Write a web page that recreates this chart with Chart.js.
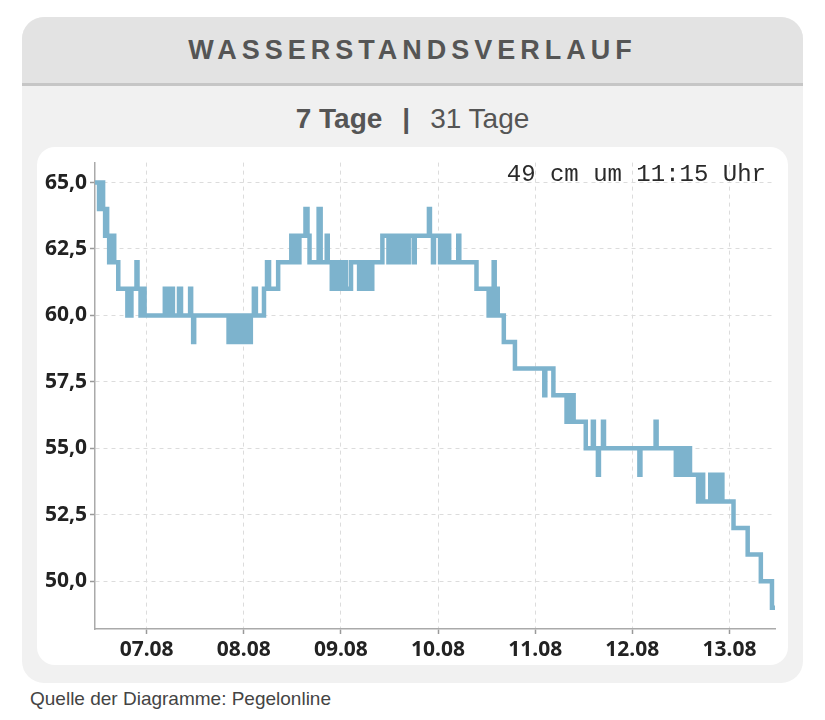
<!DOCTYPE html>
<html lang="de">
<head>
    <meta charset="UTF-8">
    <title>Wasserstandsverlauf</title>
    <style>
        body {
            margin: 0;
            background: #fff;
            font-family: 'Liberation Sans', Arial, sans-serif;
            width: 825px;
            height: 720px;
            position: relative;
            overflow: hidden;
        }
        .card {
            position: absolute;
            left: 22px;
            top: 17px;
            width: 781px;
            height: 666px;
            border-radius: 22px;
            background: #f1f1f1;
            overflow: hidden;
        }
        .card .head {
            height: 66px;
            line-height: 66px;
            background: #e3e3e3;
            border-bottom: 3px solid #c6c6c6;
            text-align: center;
            font-weight: bold;
            font-size: 27px;
            letter-spacing: 5px;
            color: #555;
        }
        .tabs {
            position: absolute;
            left: 0;
            right: 0;
            top: 84px;
            line-height: 36px;
            text-align: center;
            font-size: 28px;
            color: #555;
        }
        .tabs b { font-weight: bold; }
        .tabs .sep { margin: 0 20px; font-weight: bold; }
        .plot-box {
            position: absolute;
            left: 15px;
            top: 130px;
            width: 751px;
            height: 518px;
            border-radius: 18px;
            background: #fff;
        }
        .latest {
            position: absolute;
            right: 22px;
            top: 16px;
            font-family: 'Liberation Mono', 'DejaVu Sans Mono', monospace;
            font-size: 24px;
            line-height: 24px;
            color: #2a2a2a;
            white-space: pre;
        }
        .source {
            position: absolute;
            left: 30px;
            top: 688px;
            font-size: 19px;
            color: #444;
        }
    </style>
</head>
<body>
    <div class="card">
        <div class="head">WASSERSTANDSVERLAUF</div>
        <div class="tabs"><b>7 Tage</b><span class="sep">|</span>31 Tage</div>
        <div class="plot-box">
            <canvas id="levelChart"></canvas>
            <div class="latest" id="latest"></div>
        </div>
    </div>
    <div class="source">Quelle der Diagramme: Pegelonline</div>

    <script src="https://cdn.jsdelivr.net/npm/chart.js"></script>
    <script>
        // Messzeitpunkte (nur Wechsel des Wasserstands), Pegel in cm
        const times = [
            '06.08 11:15', '06.08 12:15', '06.08 12:45', '06.08 13:15', '06.08 13:45', '06.08 14:00',
            '06.08 14:15', '06.08 14:45', '06.08 15:00', '06.08 15:30', '06.08 15:45', '06.08 16:00',
            '06.08 17:00', '06.08 19:15', '06.08 19:30', '06.08 20:00', '06.08 20:15', '06.08 21:30',
            '06.08 21:45', '06.08 22:30', '06.08 22:45', '06.08 23:30',
            '07.08 04:30', '07.08 05:15', '07.08 05:30', '07.08 06:30', '07.08 08:00', '07.08 08:30',
            '07.08 10:45', '07.08 11:00', '07.08 11:30', '07.08 11:45', '07.08 20:15', '07.08 20:45',
            '07.08 21:00', '07.08 21:30', '07.08 21:45', '07.08 22:30', '07.08 22:45', '07.08 23:30',
            '07.08 23:45',
            '08.08 00:30', '08.08 00:45', '08.08 01:45', '08.08 02:30', '08.08 03:00', '08.08 05:00',
            '08.08 05:45', '08.08 06:15', '08.08 08:30', '08.08 11:45', '08.08 12:15', '08.08 12:45',
            '08.08 13:15', '08.08 13:45', '08.08 15:15', '08.08 15:45', '08.08 16:15', '08.08 18:30',
            '08.08 19:00', '08.08 20:30', '08.08 20:45', '08.08 21:45', '08.08 22:30', '08.08 22:45',
            '08.08 23:45',
            '09.08 00:00', '09.08 01:00', '09.08 01:15', '09.08 02:30', '09.08 04:30', '09.08 05:00',
            '09.08 05:15', '09.08 06:00', '09.08 07:00', '09.08 07:45', '09.08 10:15', '09.08 11:45',
            '09.08 12:00', '09.08 13:00', '09.08 13:15', '09.08 14:00', '09.08 14:15', '09.08 15:15',
            '09.08 15:30', '09.08 16:30', '09.08 16:45', '09.08 18:00', '09.08 18:15', '09.08 21:45',
            '09.08 22:00', '09.08 22:45', '09.08 23:00',
            '10.08 00:30', '10.08 00:45', '10.08 01:30', '10.08 01:45', '10.08 02:45', '10.08 05:00',
            '10.08 05:15', '10.08 09:30', '10.08 12:30', '10.08 13:00', '10.08 13:15', '10.08 13:45',
            '10.08 14:00', '10.08 14:30', '10.08 14:45', '10.08 16:15', '10.08 19:00',
            '11.08 02:15', '11.08 02:30', '11.08 04:30', '11.08 07:45', '11.08 08:15', '11.08 08:30',
            '11.08 09:15', '11.08 09:30', '11.08 12:30', '11.08 14:15', '11.08 14:30', '11.08 15:30',
            '11.08 15:45', '11.08 16:45', '11.08 17:00',
            '12.08 01:45', '12.08 02:00', '12.08 05:45', '12.08 06:00', '12.08 10:45', '12.08 11:45',
            '12.08 12:00', '12.08 12:45', '12.08 13:00', '12.08 14:00', '12.08 14:15', '12.08 16:15',
            '12.08 16:30', '12.08 17:30', '12.08 19:15', '12.08 19:45', '12.08 20:30', '12.08 21:00',
            '12.08 21:45', '12.08 22:15',
            '13.08 01:00', '13.08 04:30', '13.08 07:45', '13.08 10:30', '13.08 11:15'
        ];
        const levels = [
            65, 64, 65, 64, 63, 64,
            63, 62, 63, 62, 63, 62,
            61, 60, 61, 60, 61, 62,
            61, 60, 61, 60,
            61, 60, 61, 60, 61, 60,
            61, 60, 59, 60, 59, 60,
            59, 60, 59, 60, 59, 60,
            59,
            60, 59, 60, 61, 60, 61,
            62, 61, 62, 63, 62, 63,
            62, 63, 64, 63, 62, 64,
            62, 63, 62, 61, 62, 61,
            62,
            61, 62, 61, 62, 61, 62,
            61, 62, 61, 62, 63, 62,
            63, 62, 63, 62, 63, 62,
            63, 62, 63, 62, 63, 64,
            63, 62, 63,
            62, 63, 62, 63, 62, 63,
            62, 61, 60, 61, 60, 62,
            60, 61, 60, 59, 58,
            57, 58, 57, 56, 57, 56,
            57, 56, 55, 56, 55, 54,
            55, 56, 55,
            54, 55, 56, 55, 54, 55,
            54, 55, 54, 55, 54, 53,
            54, 53, 54, 53, 54, 53,
            54, 53,
            52, 51, 50, 49, 49
        ];
        const dayLabels = ['07.08', '08.08', '09.08', '10.08', '11.08', '12.08', '13.08'];
        const yTicks = [50, 52.5, 55, 57.5, 60, 62.5, 65];

        // 'dd.mm hh:mm' -> Stunden seit 06.08 00:00
        function toHours(s) {
            const [d, t] = s.split(' ');
            const day = parseInt(d.split('.')[0], 10);
            const [hh, mm] = t.split(':').map(Number);
            return (day - 6) * 24 + hh + mm / 60;
        }

        const points = times.map((t, i) => ({ x: toHours(t), y: levels[i] }));
        const dayTicks = dayLabels.map((lbl, i) => (i + 1) * 24);

        const last = times.length - 1;
        document.getElementById('latest').textContent =
            levels[last] + ' cm um ' + times[last].split(' ')[1] + ' Uhr';

        const tickFont = { family: "'Noto Sans', 'Open Sans', sans-serif", size: 21, weight: 'bold' };

        new Chart(document.getElementById('levelChart'), {
            type: 'line',
            data: {
                datasets: [{
                    data: points,
                    borderColor: '#7db3cd',
                    borderWidth: 4.5,
                    stepped: true,
                    pointRadius: 0,
                    fill: false
                }]
            },
            options: {
                responsive: true,
                maintainAspectRatio: false,
                animation: false,
                layout: { padding: { top: 8, right: 13, left: 0, bottom: 0 } },
                plugins: {
                    legend: { display: false },
                    tooltip: { enabled: false }
                },
                scales: {
                    x: {
                        type: 'linear',
                        min: toHours(times[0]),
                        max: toHours(times[last]),
                        afterBuildTicks: s => { s.ticks = dayTicks.map(v => ({ value: v })); },
                        afterFit: s => { s.height = 36; },
                        ticks: {
                            autoSkip: false,
                            maxRotation: 0,
                            padding: 3,
                            color: '#222',
                            font: tickFont,
                            callback: v => dayLabels[dayTicks.indexOf(v)]
                        },
                        grid: {
                            color: '#dcdcdc',
                            tickColor: '#999',
                            tickLength: 5,
                            tickWidth: 1.5
                        },
                        border: { color: '#aaa', width: 1.5, dash: [4, 4] }
                    },
                    y: {
                        min: 48.2,
                        max: 65.75,
                        afterBuildTicks: s => { s.ticks = yTicks.map(v => ({ value: v })); },
                        afterFit: s => { s.width = 58; },
                        ticks: {
                            padding: 3,
                            color: '#222',
                            font: tickFont,
                            callback: v => v.toFixed(1).replace('.', ',')
                        },
                        grid: {
                            color: '#dcdcdc',
                            tickColor: '#999',
                            tickLength: 5,
                            tickWidth: 1.5
                        },
                        border: { color: '#aaa', width: 1.5, dash: [4, 4] }
                    }
                }
            }
        });
    </script>
</body>
</html>
